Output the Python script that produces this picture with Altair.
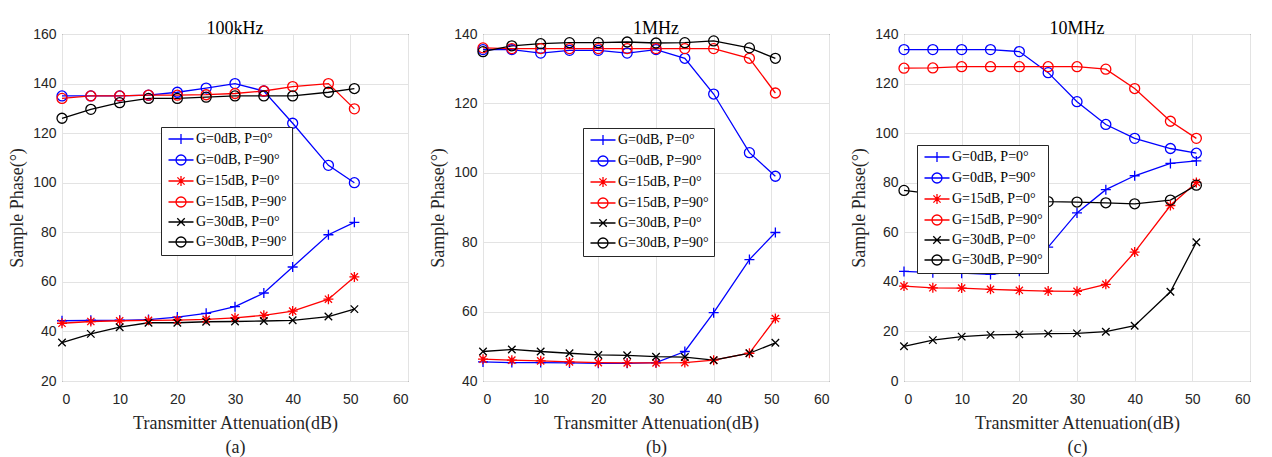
import altair as alt
import pandas as pd

# ---------------- data ----------------
x_atten = [0, 5, 10, 15, 20, 25, 30, 35, 40, 46.2, 50.7]

series_names = ["G=0dB, P=0°", "G=0dB, P=90°", "G=15dB, P=0°",
                "G=15dB, P=90°", "G=30dB, P=0°", "G=30dB, P=90°"]
series_colors = ["#0000ff", "#0000ff", "#ff0000", "#ff0000", "#000000", "#000000"]

# (a) 100kHz
a_g0_p0 = [44.3, 44.5, 44.5, 44.8, 45.8, 47.3, 50.0, 55.5, 66.0, 79.0, 84.0]
a_g0_p90 = [135.0, 135.0, 135.0, 135.3, 136.5, 138.2, 140.0, 137.0, 124.0, 107.0, 100.0]
a_g15_p0 = [43.3, 44.0, 44.3, 44.5, 44.6, 44.9, 45.5, 46.5, 48.2, 53.0, 62.0]
a_g15_p90 = [134.0, 135.0, 135.0, 135.3, 135.3, 135.5, 136.0, 137.0, 138.8, 140.0, 129.8]
a_g30_p0 = [35.5, 39.0, 41.7, 43.5, 43.5, 43.9, 44.0, 44.2, 44.5, 46.0, 49.0]
a_g30_p90 = [126.0, 129.6, 132.3, 134.0, 134.0, 134.5, 135.0, 135.0, 135.0, 136.5, 138.0]

# (b) 1MHz
b_g0_p0 = [45.5, 45.3, 45.3, 45.2, 45.1, 45.1, 45.3, 48.5, 59.7, 75.0, 82.8]
b_g0_p90 = [135.5, 135.5, 134.5, 135.3, 135.3, 134.5, 135.5, 133.0, 122.7, 105.8, 99.0]
b_g15_p0 = [46.3, 46.0, 45.8, 45.5, 45.3, 45.2, 45.2, 45.3, 46.0, 48.0, 58.0]
b_g15_p90 = [136.0, 135.8, 135.8, 135.8, 135.8, 135.8, 135.8, 135.8, 135.8, 133.0, 123.0]
b_g30_p0 = [48.5, 49.1, 48.5, 48.0, 47.5, 47.4, 47.0, 46.9, 46.0, 48.0, 51.0]
b_g30_p90 = [134.9, 136.6, 137.2, 137.5, 137.5, 137.7, 137.4, 137.5, 138.0, 136.0, 133.0]

# (c) 10MHz
c_g0_p0 = [44.2, 43.7, 43.5, 43.0, 44.3, 54.0, 67.8, 77.2, 82.8, 87.8, 88.8]
c_g0_p90 = [133.7, 133.7, 133.7, 133.7, 132.9, 124.4, 112.7, 103.5, 97.9, 93.8, 91.9]
c_g15_p0 = [38.3, 37.6, 37.5, 37.0, 36.6, 36.3, 36.2, 39.0, 52.0, 70.8, 80.1]
c_g15_p90 = [126.2, 126.3, 126.8, 126.8, 126.8, 126.8, 126.8, 125.8, 118.0, 104.8, 97.9]
c_g30_p0 = [14.0, 16.5, 17.9, 18.6, 18.8, 19.1, 19.2, 19.9, 22.3, 36.0, 56.0]
c_g30_p90 = [76.9, 75.5, 74.5, 73.5, 73.0, 72.4, 72.2, 71.9, 71.5, 73.0, 79.0]

panel_titles = ["100kHz", "1MHz", "10MHz"]
panel_letters = ["(a)", "(b)", "(c)"]

# ---------------- marker shapes ----------------
PLUS = "M-1,0H1M0,-1V1"
CIRCLE = "M-1,0A1,1 0 1,0 1,0A1,1 0 1,0 -1,0"
ASTER = "M-1,0H1M0,-1V1M-0.72,-0.72L0.72,0.72M-0.72,0.72L0.72,-0.72"
CROSS = "M-0.75,-0.75L0.75,0.75M-0.75,0.75L0.75,-0.75"
markers = [PLUS, CIRCLE, ASTER, CIRCLE, CROSS, CIRCLE]
legend_paths = ["M-2.5,0H2.5" + m for m in markers]

SERIF = "Liberation Serif"
SANS = "Liberation Sans"
AX = "#262626"


def make_df(vals):
    rows = []
    for name, ys in zip(series_names, vals):
        for xv, yv in zip(x_atten, ys):
            rows.append({"atten": xv, "phase": yv, "series": name})
    return pd.DataFrame(rows)


def panel(title, letter, vals, ymin, ymax, lx, ly):
    df = make_df(vals)
    base = alt.Chart(df)
    xenc = alt.X(
        "atten:Q",
        scale=alt.Scale(domain=[0, 60], nice=False, zero=False),
        axis=alt.Axis(values=list(range(0, 61, 10)),
                      title=["Transmitter Attenuation(dB)", letter]),
    )
    yenc = alt.Y(
        "phase:Q",
        scale=alt.Scale(domain=[ymin, ymax], nice=False, zero=False),
        axis=alt.Axis(values=list(range(ymin, ymax + 1, 20)),
                      title="Sample Phase(°)"),
    )
    cscale = alt.Scale(domain=series_names, range=series_colors)
    lines = base.mark_line(strokeWidth=1.3).encode(
        x=xenc, y=yenc,
        color=alt.Color("series:N", scale=cscale, legend=None),
    )
    pts = base.mark_point(filled=False, size=100, strokeWidth=1.3, opacity=1).encode(
        x=xenc, y=yenc,
        color=alt.Color("series:N", scale=cscale, legend=None),
        shape=alt.Shape("series:N",
                        scale=alt.Scale(domain=series_names, range=markers),
                        legend=None),
    )
    leg = dict(
        orient="none", legendX=lx, legendY=ly, title=None,
        fillColor="white", strokeColor=AX, padding=5,
        labelFont=SERIF, labelFontSize=14, labelColor="black",
        symbolSize=100, symbolStrokeWidth=1.3, symbolOffset=8,
        labelOffset=8, rowPadding=5, labelLimit=300,
    )
    legl = base.mark_point(filled=False, size=100, strokeWidth=1.3, opacity=0).encode(
        x=xenc, y=yenc,
        color=alt.Color("series:N", scale=cscale, legend=alt.Legend(**leg)),
        shape=alt.Shape("series:N",
                        scale=alt.Scale(domain=series_names, range=legend_paths),
                        legend=alt.Legend(**leg)),
    )
    return (
        alt.layer(lines, pts, legl)
        .resolve_scale(shape="independent", color="independent")
        .properties(width=346, height=347,
                    title=alt.TitleParams(title, font=SERIF, fontSize=18,
                                          fontWeight="normal", color="black",
                                          offset=-7, dy=4))
    )


pa = panel(panel_titles[0], panel_letters[0],
           [a_g0_p0, a_g0_p90, a_g15_p0, a_g15_p90, a_g30_p0, a_g30_p90],
           20, 160, 99, 93)
pb = panel(panel_titles[1], panel_letters[1],
           [b_g0_p0, b_g0_p90, b_g15_p0, b_g15_p90, b_g30_p0, b_g30_p90],
           40, 140, 100, 94)
pc = panel(panel_titles[2], panel_letters[2],
           [c_g0_p0, c_g0_p90, c_g15_p0, c_g15_p90, c_g30_p0, c_g30_p90],
           0, 140, 13, 111)

chart = (
    alt.hconcat(pa, pb, pc, spacing=20)
    .resolve_scale(color="independent", shape="independent",
                   x="independent", y="independent")
    .resolve_legend(color="independent", shape="independent")
    .properties(padding={"left": 8, "top": 19, "right": 5, "bottom": 0},
                background="white")
    .configure_view(stroke=AX, strokeWidth=1)
    .configure_axis(
        domain=False, ticks=False,
        grid=True, gridColor="#e3e3e3", gridWidth=1,
        labelFont=SANS, labelFontSize=14, labelColor=AX,
        titleFont=SERIF, titleFontSize=18, titleFontWeight="normal",
        titleColor=AX,
    )
    .configure_axisX(labelPadding=11, titlePadding=8, titleLineHeight=24)
    .configure_axisY(labelPadding=6, titlePadding=6)
)

chart.save("out.html", embed_options={"renderer": "svg", "actions": False})
